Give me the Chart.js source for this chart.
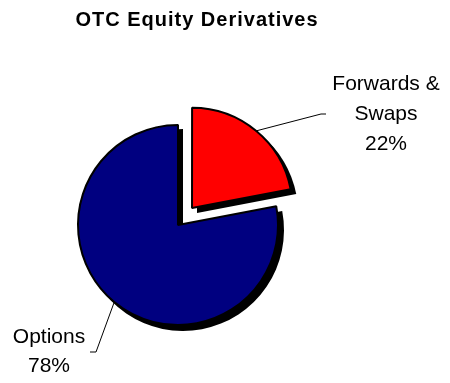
<!DOCTYPE html>
<html>
<head>
<meta charset="utf-8">
<script src="https://cdn.jsdelivr.net/npm/chart.js@4.4.0/dist/chart.umd.min.js"></script>
<style>
  html, body { margin: 0; padding: 0; background: #ffffff; overflow: hidden; }
  #pieChart { display: block; }
</style>
</head>
<body>
<canvas id="pieChart" width="450" height="383" style="width:450px;height:383px"></canvas>
<script>
// Данные диаграммы
const chartTitle = 'OTC Equity Derivatives';
const categories = ['Forwards & Swaps', 'Options'];
const labelLines = [['Forwards &', 'Swaps'], ['Options']];
const shares = [22, 78];
const sliceColors = ['#ff0000', '#000080'];
const explode = [88, 0];

// где стоят подписи (центр блока текста) и куда приходит выноска
const labelBoxes = [
    { cx: 386, top: 84, step: 30, lineTo: [321, 114], tail: [326, 114] },
    { cx: 49, top: 337, step: 29, lineTo: [96, 352], tail: [90, 352] }
];

const font = "'Liberation Sans', Arial, sans-serif";

// тень под секторами
const shadowPlugin = {
    id: 'shadow',
    beforeDatasetDraw(chart, args) {
        const ctx = chart.ctx;
        const meta = chart.getDatasetMeta(args.index);
        ctx.save();
        ctx.fillStyle = '#000000';
        meta.data.forEach(arc => {
            const off = (arc.options.offset || 0) / 4;
            const mid = (arc.startAngle + arc.endAngle) / 2;
            const cx = arc.x + Math.cos(mid) * off + 5;
            const cy = arc.y + Math.sin(mid) * off + 5;
            ctx.beginPath();
            ctx.moveTo(cx, cy);
            ctx.arc(cx, cy, arc.outerRadius + 1, arc.startAngle, arc.endAngle);
            ctx.closePath();
            ctx.fill();
        });
        ctx.restore();
    }
};

// заголовок, подписи и выноски
const labelsPlugin = {
    id: 'sliceLabels',
    afterDatasetsDraw(chart) {
        const ctx = chart.ctx;
        const meta = chart.getDatasetMeta(0);
        ctx.save();

        ctx.fillStyle = '#000000';
        ctx.font = 'bold 20px ' + font;
        ctx.textAlign = 'center';
        ctx.textBaseline = 'alphabetic';
        if ('letterSpacing' in ctx) ctx.letterSpacing = '1px';
        ctx.fillText(chartTitle, 197, 26);
        if ('letterSpacing' in ctx) ctx.letterSpacing = '0px';

        const total = shares.reduce((a, b) => a + b, 0);
        meta.data.forEach((arc, i) => {
            const box = labelBoxes[i];
            const off = (arc.options.offset || 0) / 4;
            const mid = (arc.startAngle + arc.endAngle) / 2;
            const sx = arc.x + Math.cos(mid) * (off + arc.outerRadius);
            const sy = arc.y + Math.sin(mid) * (off + arc.outerRadius);

            ctx.strokeStyle = '#000000';
            ctx.lineWidth = 1;
            ctx.beginPath();
            ctx.moveTo(sx, sy);
            ctx.lineTo(box.lineTo[0], box.lineTo[1]);
            ctx.lineTo(box.tail[0], box.tail[1]);
            ctx.stroke();

            const lines = labelLines[i].concat([Math.round(shares[i] / total * 100) + '%']);
            ctx.font = '21px ' + font;
            ctx.textAlign = 'center';
            ctx.textBaseline = 'middle';
            lines.forEach((t, k) => {
                ctx.fillText(t, box.cx, box.top + k * box.step);
            });
        });
        ctx.restore();
    }
};

new Chart(document.getElementById('pieChart'), {
    type: 'pie',
    data: {
        labels: categories,
        datasets: [{
            data: shares,
            backgroundColor: sliceColors,
            borderColor: '#000000',
            borderWidth: 2,
            offset: explode,
            radius: 100
        }]
    },
    options: {
        responsive: false,
        animation: false,
        layout: { padding: { left: 0, right: 94, top: 67, bottom: 0 } },
        plugins: {
            legend: { display: false },
            tooltip: { enabled: false },
            title: { display: false }
        }
    },
    plugins: [shadowPlugin, labelsPlugin]
});
</script>
</body>
</html>
